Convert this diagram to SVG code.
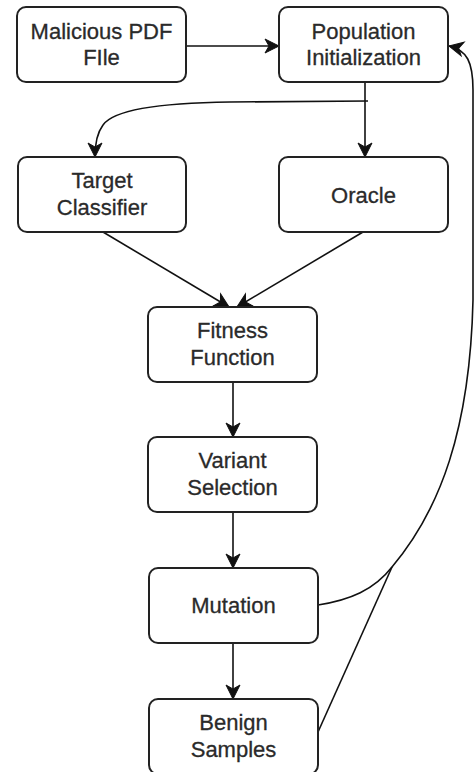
<svg xmlns="http://www.w3.org/2000/svg" width="475" height="772" viewBox="0 0 475 772">
<defs>
<marker id="arr" markerUnits="userSpaceOnUse" markerWidth="18" markerHeight="18" viewBox="-1 -9 17 18" refX="14" refY="0" orient="auto">
<path d="M0,-7 L14,0 L0,7 L4,0 Z" fill="#111" stroke="#111" stroke-width="1"/>
</marker>
</defs>
<style>
.box{fill:#fff;stroke:#222;stroke-width:2}
.lbl{font-family:"Liberation Sans",Arial,sans-serif;font-size:22px;fill:#2a2a2a;stroke:#2a2a2a;stroke-width:0.3;text-anchor:middle}
.edge{fill:none;stroke:#111;stroke-width:1.6}
</style>
<rect width="475" height="772" fill="#fff"/>
<g id="connectors">
<path class="edge" d="M186,46 L279,46" marker-end="url(#arr)"/>
<path class="edge" d="M365,82 L365,157" marker-end="url(#arr)"/>
<path class="edge" d="M368,101 L230,102 C150,103 112,112 103,125 C97,133 95,143 95,157" marker-end="url(#arr)"/>
<path class="edge" d="M103,232 L229,307" marker-end="url(#arr)"/>
<path class="edge" d="M363,232 L237,307" marker-end="url(#arr)"/>
<path class="edge" d="M233,382 L233,437" marker-end="url(#arr)"/>
<path class="edge" d="M233,512 L233,568" marker-end="url(#arr)"/>
<path class="edge" d="M233,643 L233,699" marker-end="url(#arr)"/>
<path class="edge" d="M318,605 C350,600 374,590 392,567 C440,510 470,430 473,300 L473,90 C473,62 467,50 449,46" marker-end="url(#arr)"/>
<path class="edge" d="M318,732 L392,567"/>
</g>
<g id="malicious">
<rect class="box" x="17" y="7" width="169" height="75" rx="9"/>
<text class="lbl" x="101.5" y="39">Malicious PDF</text>
<text class="lbl" x="101.5" y="65">FIle</text>
</g>
<g id="population">
<rect class="box" x="279" y="7" width="169" height="75" rx="9"/>
<text class="lbl" x="363.5" y="39">Population</text>
<text class="lbl" x="363.5" y="65">Initialization</text>
</g>
<g id="target">
<rect class="box" x="18" y="157" width="168" height="75" rx="9"/>
<text class="lbl" x="102" y="188">Target</text>
<text class="lbl" x="102" y="215">Classifier</text>
</g>
<g id="oracle">
<rect class="box" x="279" y="157" width="169" height="75" rx="9"/>
<text class="lbl" x="363.5" y="203">Oracle</text>
</g>
<g id="fitness">
<rect class="box" x="148" y="307" width="169" height="75" rx="9"/>
<text class="lbl" x="232.5" y="338">Fitness</text>
<text class="lbl" x="232.5" y="365">Function</text>
</g>
<g id="variant">
<rect class="box" x="148" y="437" width="169" height="75" rx="9"/>
<text class="lbl" x="232.5" y="468">Variant</text>
<text class="lbl" x="232.5" y="495">Selection</text>
</g>
<g id="mutation">
<rect class="box" x="149" y="568" width="169" height="75" rx="9"/>
<text class="lbl" x="233.5" y="613">Mutation</text>
</g>
<g id="benign">
<rect class="box" x="149" y="699" width="169" height="75" rx="9"/>
<text class="lbl" x="233.5" y="730">Benign</text>
<text class="lbl" x="233.5" y="757">Samples</text>
</g>
</svg>
